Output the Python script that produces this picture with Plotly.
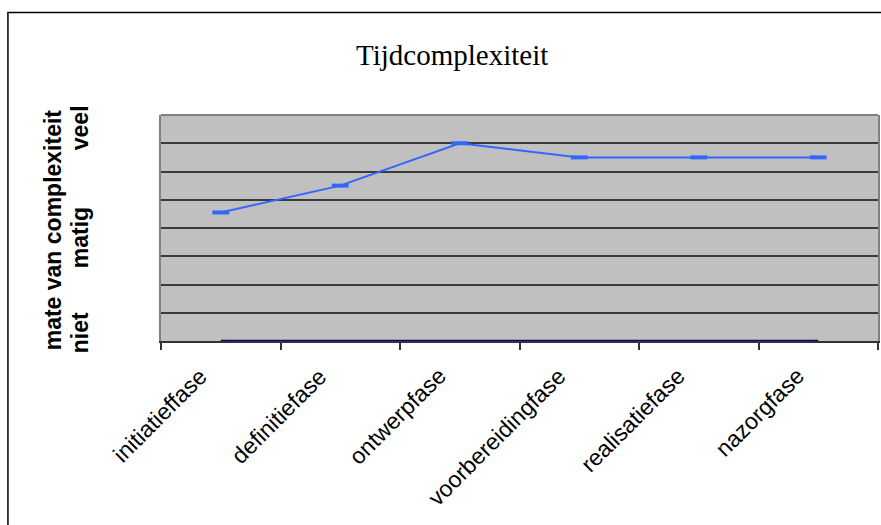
import plotly.graph_objects as go

# Project phases and the rated time complexity per phase (0 = niet, 8 = veel)
phases = ["initiatieffase", "definitiefase", "ontwerpfase",
          "voorbereidingfase", "realisatiefase", "nazorgfase"]
complexity = [4.55, 5.5, 7.0, 6.5, 6.5, 6.5]
baseline = [0, 0, 0, 0, 0, 0]

W, H = 881, 525
ML, MR, MT, MB = 161, 1, 115, 184
pw, ph = W - ML - MR, H - MT - MB


def px_to_paper_x(x):
    return (x - ML) / pw


def px_to_paper_y(y):
    return (H - MB - y) / ph


fig = go.Figure()

fig.add_trace(go.Scatter(
    x=phases, y=baseline, mode="lines",
    line=dict(color="#000080", width=2.5),
    cliponaxis=False, showlegend=False, hoverinfo="skip",
))

fig.add_trace(go.Scatter(
    x=phases, y=complexity, mode="lines+markers",
    line=dict(color="#3366FF", width=2),
    marker=dict(symbol="line-ew", size=12, line=dict(color="#3366FF", width=4)),
    cliponaxis=False, showlegend=False,
))

fig.update_layout(
    width=W, height=H,
    margin=dict(l=ML, r=MR, t=MT, b=MB),
    paper_bgcolor="white",
    plot_bgcolor="#C0C0C0",
    showlegend=False,
    title=dict(
        text="Tijdcomplexiteit",
        font=dict(family="Liberation Serif, serif", size=29, color="black"),
        x=px_to_paper_x(453), xref="paper", xanchor="center",
        y=1 - 55 / H, yref="container", yanchor="middle",
    ),
    xaxis=dict(
        type="category",
        categoryarray=phases,
        range=[-0.5, 5.5],
        showgrid=False,
        showline=True, linecolor="#333333", linewidth=1.5,
        ticks="outside", tickson="boundaries", ticklen=7,
        tickcolor="#333333", tickwidth=1.5,
        showticklabels=False,
        layer="below traces",
        zeroline=False,
    ),
    yaxis=dict(
        range=[0, 8], dtick=1,
        showticklabels=False,
        showgrid=True, gridcolor="#3a3a3a", gridwidth=1.5,
        showline=True, linecolor="#808080", linewidth=2, mirror=True,
        zeroline=False, ticks="",
    ),
    shapes=[
        # top edge of the plot area
        dict(type="line", xref="paper", yref="paper", x0=0, x1=1, y0=1, y1=1,
             line=dict(color="#808080", width=2)),
        # outer chart frame
        dict(type="rect", xref="paper", yref="paper",
             x0=px_to_paper_x(7.5), x1=px_to_paper_x(W + 5),
             y0=px_to_paper_y(H + 5), y1=px_to_paper_y(12.5),
             line=dict(color="black", width=1.5), layer="below"),
    ],
)

# slanted category labels, ending just left of each category centre
tick_font = dict(family="Liberation Sans, Arial, sans-serif", size=23, color="black")
for name in phases:
    fig.add_annotation(
        text=name, xref="x", yref="paper",
        x=name, y=px_to_paper_y(360), xshift=-6,
        xanchor="right", yanchor="top", textangle=-45,
        showarrow=False, font=tick_font,
    )

axis_font = dict(family="Liberation Sans, Arial, sans-serif", size=23, color="black")
labels = [
    ("mate van complexiteit", 53, 230),
    ("niet", 80, 333),
    ("matig", 80, 238),
    ("veel", 80, 128),
]
for text, x, y in labels:
    fig.add_annotation(
        text=f"<b>{text}</b>", xref="paper", yref="paper",
        x=px_to_paper_x(x), y=px_to_paper_y(y),
        xanchor="center", yanchor="middle", textangle=-90,
        showarrow=False, font=axis_font,
    )

fig.write_html("out.html")
